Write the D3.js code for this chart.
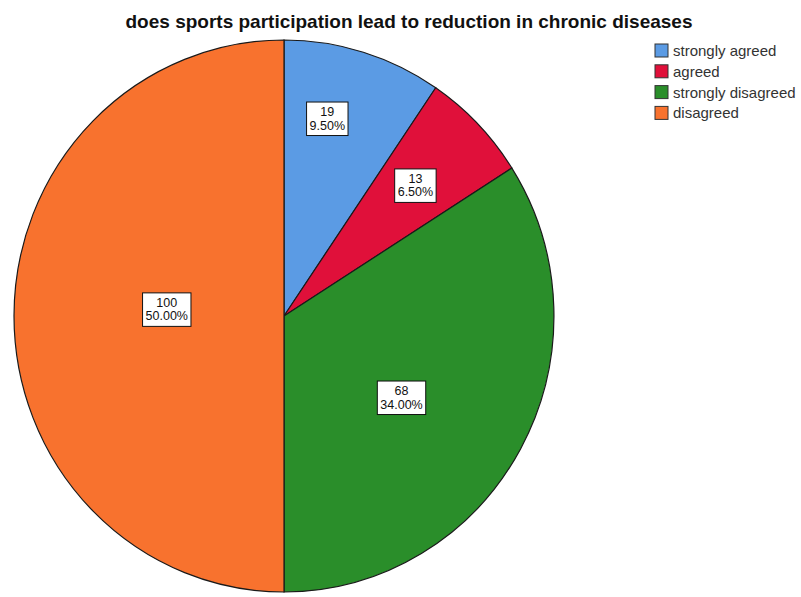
<!DOCTYPE html>
<html>
<head>
<meta charset="utf-8">
<script src="https://cdn.jsdelivr.net/npm/d3@7"></script>
<style>
  html, body { margin: 0; padding: 0; background: #ffffff; }
  svg { display: block; font-family: "Liberation Sans", Arial, sans-serif; }
</style>
</head>
<body>
<svg id="chart" width="801" height="597"></svg>
<script>
// Survey responses
const categories = ["strongly agreed", "agreed", "strongly disagreed", "disagreed"];
const counts = [19, 13, 68, 100];
const percentLabels = ["9.50%", "6.50%", "34.00%", "50.00%"];
const colors = ["#5b9be4", "#e0103a", "#2a8e2a", "#f8722e"];
const titleText = "does sports participation lead to reduction in chronic diseases";

// Label placement: angle (deg, clockwise from top) and fraction of radius
const labelAngles = [12.6, 45.7, 124, 273.4];
const labelRadii = [0.735, 0.68, 0.525, 0.435];

const svg = d3.select("#chart");
const cx = 284, cy = 316, rx = 270, ry = 276;

svg.append("text")
  .attr("x", 409).attr("y", 28)
  .attr("text-anchor", "middle")
  .attr("font-size", 19).attr("font-weight", "bold")
  .attr("fill", "#111")
  .text(titleText);

const pie = d3.pie().sort(null).value(d => d)(counts);
const arc = d3.arc().innerRadius(0).outerRadius(1);

const g = svg.append("g")
  .attr("transform", `translate(${cx},${cy}) scale(${rx},${ry})`);

g.selectAll("path")
  .data(pie)
  .join("path")
  .attr("d", arc)
  .attr("fill", (d, i) => colors[i])
  .attr("stroke", "#1a1a1a")
  .attr("stroke-width", 1.2)
  .attr("vector-effect", "non-scaling-stroke");

// Value / percent boxes
const labels = svg.append("g");
counts.forEach((c, i) => {
  const a = labelAngles[i] * Math.PI / 180;
  const x = cx + Math.sin(a) * rx * labelRadii[i];
  const y = cy - Math.cos(a) * ry * labelRadii[i];
  const lg = labels.append("g").attr("transform", `translate(${x},${y})`);
  const t = lg.append("text")
    .attr("text-anchor", "middle")
    .attr("font-size", 12.5)
    .attr("fill", "#111");
  t.append("tspan").attr("x", 0).attr("y", -2).text(c);
  t.append("tspan").attr("x", 0).attr("y", 11.5).text(percentLabels[i]);
  const bb = t.node().getBBox();
  lg.insert("rect", "text")
    .attr("x", bb.x - 3).attr("y", bb.y - 3)
    .attr("width", bb.width + 6).attr("height", bb.height + 6)
    .attr("fill", "#fff").attr("stroke", "#111").attr("stroke-width", 1);
});

// Legend
const legend = svg.append("g").attr("transform", "translate(655,44)");
const rowStep = 20.8;
categories.forEach((name, i) => {
  const row = legend.append("g").attr("transform", `translate(0,${i * rowStep})`);
  row.append("rect")
    .attr("x", 0).attr("y", 0).attr("width", 13).attr("height", 13)
    .attr("fill", colors[i]).attr("stroke", "#333").attr("stroke-width", 1);
  row.append("text")
    .attr("x", 18).attr("y", 12)
    .attr("font-size", 15)
    .attr("fill", "#333")
    .text(name);
});
</script>
</body>
</html>
